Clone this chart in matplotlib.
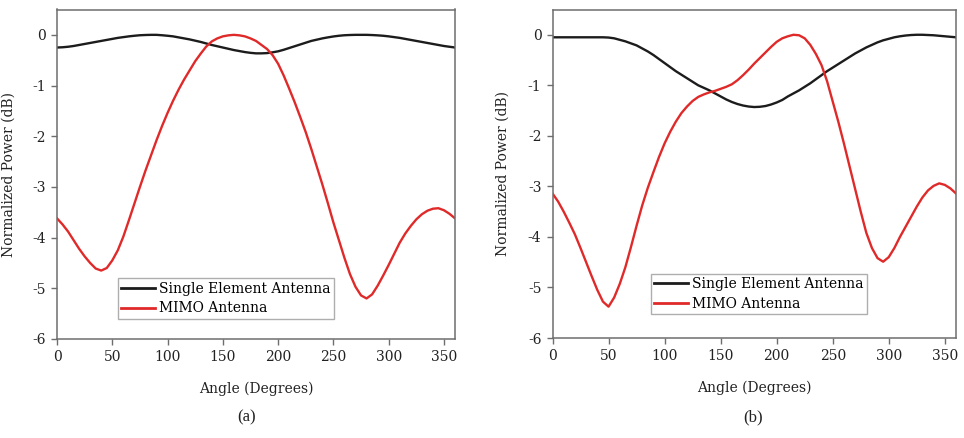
import matplotlib
matplotlib.use("Agg")
from matplotlib import pyplot as plt

angles = list(range(0, 361, 5))

# (a) normalized power in dB
single_a = [-0.25, -0.245, -0.235, -0.22, -0.20, -0.18, -0.16, -0.14, -0.12, -0.10,
            -0.08, -0.06, -0.045, -0.03, -0.018, -0.008, -0.003, 0.0, 0.0, -0.008,
            -0.018, -0.03, -0.05, -0.07, -0.09, -0.115, -0.14, -0.17, -0.20, -0.225,
            -0.25, -0.275, -0.30, -0.32, -0.34, -0.355, -0.365, -0.365, -0.36, -0.345,
            -0.325, -0.295, -0.26, -0.225, -0.19, -0.155, -0.12, -0.095, -0.07, -0.05,
            -0.032, -0.018, -0.008, -0.003, 0.0, 0.0, 0.0, -0.004, -0.01, -0.018,
            -0.03, -0.045, -0.06, -0.08, -0.10, -0.12, -0.14, -0.16, -0.18, -0.20,
            -0.22, -0.235, -0.25]
mimo_a = [-3.62, -3.74, -3.88, -4.05, -4.22, -4.37, -4.50, -4.61, -4.65, -4.60,
          -4.45, -4.25, -3.98, -3.66, -3.33, -3.00, -2.68, -2.38, -2.08, -1.80,
          -1.54, -1.30, -1.08, -0.88, -0.70, -0.52, -0.37, -0.23, -0.13, -0.07,
          -0.03, -0.01, 0.0, -0.01, -0.03, -0.07, -0.12, -0.20, -0.28, -0.40,
          -0.57, -0.80, -1.06, -1.33, -1.62, -1.92, -2.25, -2.60, -2.95, -3.32,
          -3.70, -4.05, -4.40, -4.72, -4.97, -5.14, -5.20, -5.12, -4.95, -4.75,
          -4.54, -4.32, -4.10, -3.92, -3.77, -3.64, -3.54, -3.47, -3.43, -3.42,
          -3.46, -3.53, -3.62]

# (b) normalized power in dB
single_b = [-0.05, -0.05, -0.05, -0.05, -0.05, -0.05, -0.05, -0.05, -0.05, -0.05,
            -0.055, -0.07, -0.10, -0.13, -0.17, -0.21, -0.27, -0.33, -0.40, -0.48,
            -0.56, -0.64, -0.72, -0.79, -0.86, -0.93, -1.00, -1.05, -1.10, -1.16,
            -1.22, -1.28, -1.33, -1.37, -1.40, -1.42, -1.43, -1.425, -1.41, -1.38,
            -1.34, -1.29, -1.22, -1.16, -1.10, -1.03, -0.96, -0.88, -0.80, -0.72,
            -0.65, -0.58, -0.51, -0.44, -0.37, -0.31, -0.25, -0.20, -0.15, -0.11,
            -0.08, -0.05, -0.03, -0.015, -0.005, 0.0, 0.0, -0.005, -0.01, -0.02,
            -0.03, -0.04, -0.05]
mimo_b = [-3.14, -3.30, -3.50, -3.72, -3.95, -4.22, -4.50, -4.78, -5.05, -5.28,
          -5.38, -5.20, -4.93, -4.60, -4.20, -3.78, -3.38, -3.03, -2.72, -2.42,
          -2.15, -1.92, -1.72, -1.55, -1.42, -1.31, -1.23, -1.18, -1.14, -1.11,
          -1.07, -1.03, -0.98, -0.90, -0.80, -0.69, -0.57, -0.46, -0.35, -0.24,
          -0.14, -0.07, -0.03, 0.0, -0.01, -0.07, -0.20, -0.38, -0.60, -0.92,
          -1.32, -1.72, -2.15, -2.60, -3.05, -3.50, -3.92, -4.22, -4.42, -4.49,
          -4.40, -4.22, -4.00, -3.80, -3.60, -3.40, -3.22, -3.08, -2.99, -2.94,
          -2.97, -3.04, -3.14]

xticks = [0, 50, 100, 150, 200, 250, 300, 350]
yticks = [0, -1, -2, -3, -4, -5, -6]
panel_labels = ["(a)", "(b)"]

plt.rcParams['font.family'] = ['DejaVu Serif']
spine_color = '#6e6e6e'

fig = plt.figure(figsize=(9.64, 4.38), dpi=100)
ax_a = fig.add_axes([57 / 964, 1 - 339 / 438, 398 / 964, 329.5 / 438])
ax_b = fig.add_axes([552.5 / 964, 1 - 338 / 438, 403.5 / 964, 328.5 / 438])

panels = [(ax_a, single_a, mimo_a, 0.153, 0.061),
          (ax_b, single_b, mimo_b, 0.244, 0.073)]

for ax, single, mimo, lx, ly in panels:
    ax.plot(angles, single, color='#1c1c1c', lw=1.7, label='Single Element Antenna')
    ax.plot(angles, mimo, color='#e02a2a', lw=1.7, label='MIMO Antenna')
    ax.set_xlim(0, 360)
    ax.set_ylim(-6, 0.5)
    ax.set_xticks(xticks)
    ax.set_yticks(yticks)
    ax.set_yticklabels([str(t) for t in yticks])
    ax.tick_params(direction='out', length=4, width=1, color=spine_color,
                   labelsize=10, labelcolor='#222222', pad=4)
    for s in ax.spines.values():
        s.set_color(spine_color)
        s.set_linewidth(1.1)
    ax.set_xlabel('Angle (Degrees)', fontsize=10, color='#222222')
    ax.xaxis.label.set_va('center')
    ax.xaxis.set_label_coords(0.5, -0.152)
    ax.set_ylabel('Normalized Power (dB)', fontsize=10, color='#222222')
    ax.yaxis.label.set_va('center')
    ax.yaxis.set_label_coords(-49 / 400, 0.5)
    leg = ax.legend(loc='lower left', bbox_to_anchor=(lx, ly), borderaxespad=0,
                    fontsize=10, frameon=True, fancybox=False, borderpad=0.25,
                    labelspacing=0.4, handlelength=2.4, handletextpad=0.3)
    leg.get_frame().set_edgecolor('#9a9a9a')
    leg.get_frame().set_linewidth(1.0)
    for line in leg.get_lines():
        line.set_linewidth(2.0)

fig.text(247 / 964, 1 - 417 / 438, panel_labels[0], ha='center', va='center',
         fontsize=12, family='Liberation Serif', color='#222222')
fig.text(753 / 964, 1 - 417 / 438, panel_labels[1], ha='center', va='center',
         fontsize=12, family='Liberation Serif', color='#222222')

fig.savefig('out.png', dpi=100)
